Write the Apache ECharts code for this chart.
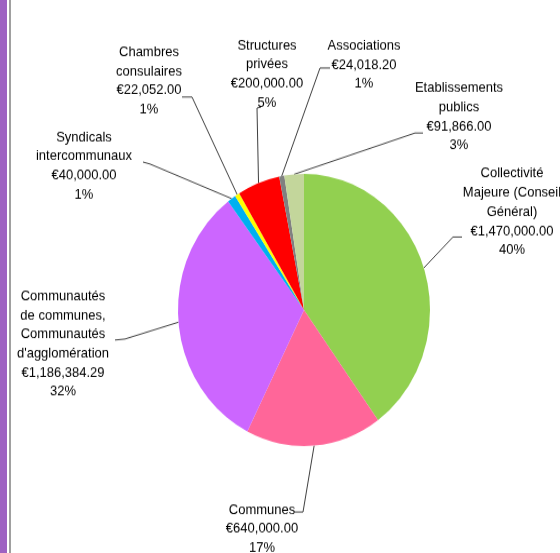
<!DOCTYPE html>
<html>
<head>
<meta charset="utf-8">
<script src="https://cdn.jsdelivr.net/npm/echarts@6/dist/echarts.min.js"></script>
<style>
  html, body { margin: 0; padding: 0; background: #fff; }
  body { width: 560px; height: 553px; overflow: hidden; }
  /* le graphique d'origine est légèrement étiré en hauteur */
  #pieChart { width: 560px; height: 512px; transform: scale(1, 1.08); transform-origin: 0 0; }
</style>
</head>
<body>
<div id="pieChart"></div>
<script>
  // categories (clockwise from 12 o'clock)
  var categories = [
    'Collectivité\nMajeure (Conseil\nGénéral)',
    'Communes',
    'Communautés\nde communes,\nCommunautés\nd\'agglomération',
    'Syndicals\nintercommunaux',
    'Chambres\nconsulaires',
    'Structures\nprivées',
    'Associations',
    'Etablissements\npublics'
  ];
  // montants en euros
  var amounts = [1470000, 640000, 1186384.29, 40000, 22052, 200000, 24018.20, 91866];

  var sliceColors = ['#92D050', '#FF6699', '#CC66FF', '#00B0F0', '#FFFF00', '#FF0000', '#808080', '#C3D69B'];

  var SY = 1.08;
  // centre des étiquettes (x, y) sur l'image finale
  var labelPos = [[512, 212], [262, 529], [63, 344], [84, 166], [149, 81], [267, 74], [364, 65], [459, 117]];
  // coude + fin des traits de rappel sur l'image finale
  var guideEnds = [
    [[453, 237], [462, 237]],
    [[303, 512], [295, 512]],
    [[125, 339], [115, 340]],
    [[150, 164], [143, 162]],
    [[192, 97], [182, 97]],
    [[257, 108], [261, 107]],
    [[320, 68], [330, 68]],
    [[415, 133], [423, 133]]
  ];

  function toChart(p) {
    return [p[0], p[1] / SY];
  }

  var myChart = echarts.init(document.getElementById('pieChart'));

  var pieData = [];
  categories.forEach(function (name, i) {
    pieData.push({name: name, value: amounts[i], itemStyle: {color: sliceColors[i]}});
  });

  function euro(v) {
    return '€' + v.toLocaleString('en-US', {minimumFractionDigits: 2, maximumFractionDigits: 2});
  }

  var option = {
    backgroundColor: '#ffffff',
    animation: false,
    graphic: [
      {type: 'rect', left: 0, top: 0, shape: {width: 7, height: 512}, style: {fill: '#9E62C2'}},
      {type: 'rect', left: 9, top: 0, shape: {width: 2, height: 512}, style: {fill: '#A0A0A0'}}
    ],
    series: [{
      type: 'pie',
      center: [304, 287],
      radius: 126,
      startAngle: 90,
      clockwise: true,
      percentPrecision: 0,
      emphasis: {disabled: true},
      itemStyle: {borderWidth: 0},
      label: {
        show: true,
        color: '#000',
        fontFamily: 'Liberation Sans',
        fontSize: 13,
        lineHeight: 17.7,
        align: 'center',
        formatter: function (p) {
          return p.name + '\n' + euro(p.value) + '\n' + p.percent + '%';
        }
      },
      labelLine: {
        show: true,
        length: 10,
        length2: 8,
        lineStyle: {color: '#404040', width: 1}
      },
      labelLayout: function (params) {
        var i = params.dataIndex;
        var pos = toChart(labelPos[i]);
        var start = params.labelLinePoints ? params.labelLinePoints[0] : pos;
        return {
          x: pos[0],
          y: pos[1],
          align: 'center',
          verticalAlign: 'middle',
          labelLinePoints: [start, toChart(guideEnds[i][0]), toChart(guideEnds[i][1])]
        };
      },
      data: pieData
    }]
  };

  myChart.setOption(option);
  window.addEventListener('resize', myChart.resize);
</script>
</body>
</html>
